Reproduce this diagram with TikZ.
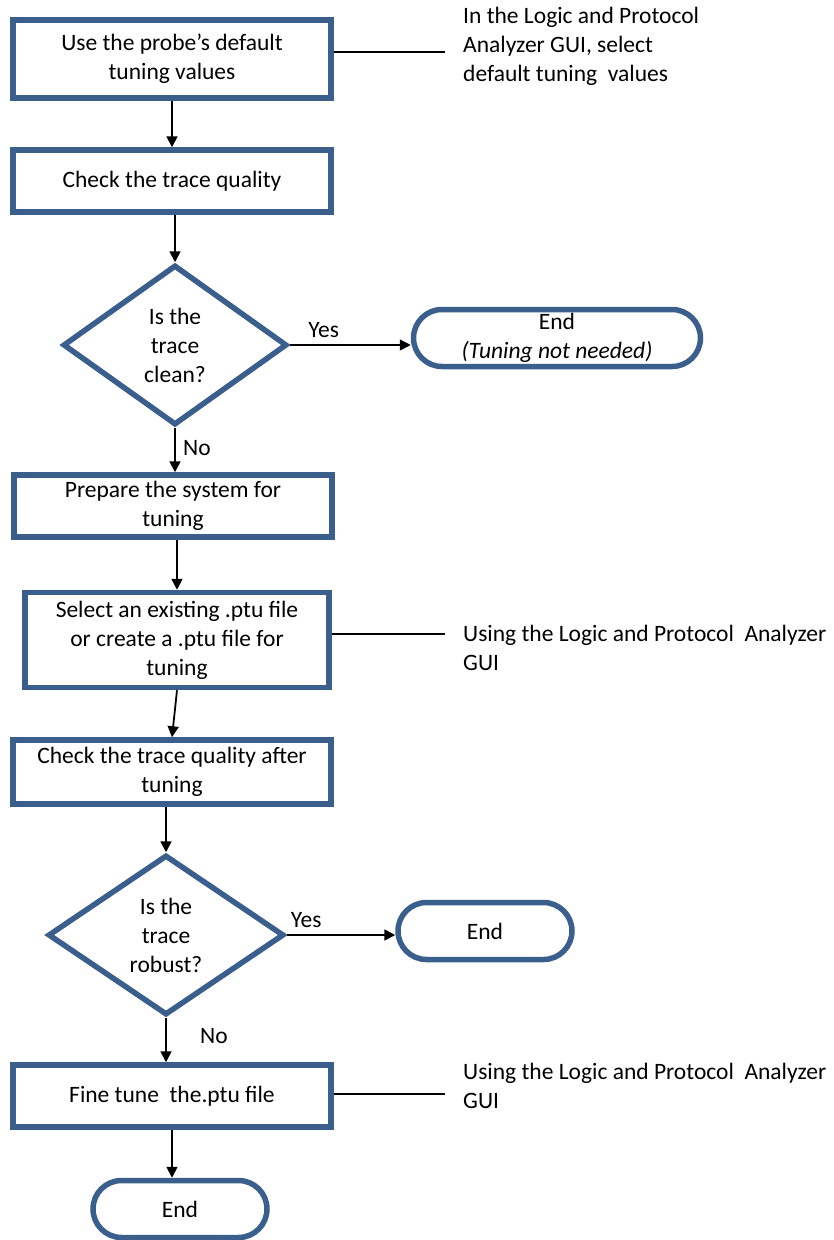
\documentclass[tikz,border=0pt]{standalone}
\usepackage{fontspec}
\setmainfont{Carlito}
\usetikzlibrary{shapes.geometric,shapes.misc,arrows.meta}
\definecolor{bb}{RGB}{59, 95, 140}

\begin{document}
\begin{tikzpicture}[x=1pt, y=1pt,
  every node/.style={font=\fontsize{23.5}{29}\selectfont, align=center},
  box/.style={rectangle, draw=bb, line width=5.5pt, fill=white, minimum width=318pt, inner sep=0pt},
  ask/.style={diamond, draw=bb, line width=5.5pt, fill=white, inner sep=0pt},
  stop/.style={rounded rectangle, draw=bb, line width=5.5pt, fill=white, minimum height=57pt, inner sep=0pt},
  note/.style={anchor=west, align=left, inner sep=0pt},
  flow/.style={-{Triangle[length=11pt, width=11pt]}, line width=1.8pt},
  link/.style={line width=1.8pt}]
\useasboundingbox (0,0) rectangle (834,-1240);
% steps
\node (1) [box, minimum height=78pt] at (172, -59) {Use the probe's default\\tuning values};
\node (2) [box, minimum height=62pt] at (172, -181) {Check the trace quality};
\node (3) [ask, minimum width=224pt, minimum height=160pt] at (175, -345) {Is the\\trace\\clean?};
\node (4) [stop, minimum width=287pt] at (557, -338) {End\\\textit{(Tuning not needed)}};
\node (5) [box, minimum height=62pt] at (173, -506) {Prepare the system for\\tuning};
\node (6) [box, minimum width=304pt, minimum height=95pt] at (177, -640) {Select an existing .ptu file\\or create a .ptu file for\\tuning};
\node (7) [box, minimum height=64pt] at (172, -772) {Check the trace quality after\\tuning};
\node (8) [ask, minimum width=236pt, minimum height=160pt] at (166, -935) {Is the\\trace\\robust?};
\node (9) [stop, minimum width=174pt] at (485, -931) {End};
\node (10) [box, minimum height=62pt] at (172, -1096) {Fine tune\ \ the.ptu file};
\node (11) [stop, minimum width=174pt] at (180, -1209) {End};
% notes
\coordinate (n1) at (445, -52);
\coordinate (n2) at (445, -634);
\coordinate (n3) at (445, -1094);
\node (t1) [note] at (463, -46) {In the Logic and Protocol\\Analyzer GUI, select\\default tuning\ \ values};
\node (t2) [note] at (463, -648) {Using the Logic and Protocol\ \ Analyzer\\GUI};
\node (t3) [note] at (463, -1086) {Using the Logic and Protocol\ \ Analyzer\\GUI};
\draw [link] (1.east |- n1) to (n1);
\draw [link] (6.east |- n2) to (n2);
\draw [link] (10.east |- n3) to (n3);
% arrows
\draw [flow] (1.south -| 2.north) to (2.north);
\draw [flow] (2.south -| 3.north) to (3.north);
\draw [flow] (3.east) to node[above=3pt, pos=0.28] {Yes} (4.west |- 3.east);
\draw [flow] (3.south) to node[right=4pt, pos=0.45] {No} (3.south |- 5.north);
\draw [flow] (5.south -| 6.north) to (6.north);
\draw [flow] (6.south) to (7.north);
\draw [flow] (7.south -| 8.north) to (8.north);
\draw [flow] (8.east) to node[above=3pt, pos=0.18] {Yes} (9.west |- 8.east);
\draw [flow] (8.south) to node[right=30pt, pos=0.4] {No} (8.south |- 10.north);
\draw [flow] (10.south) to (10.south |- 11.north);
\end{tikzpicture}
\end{document}
